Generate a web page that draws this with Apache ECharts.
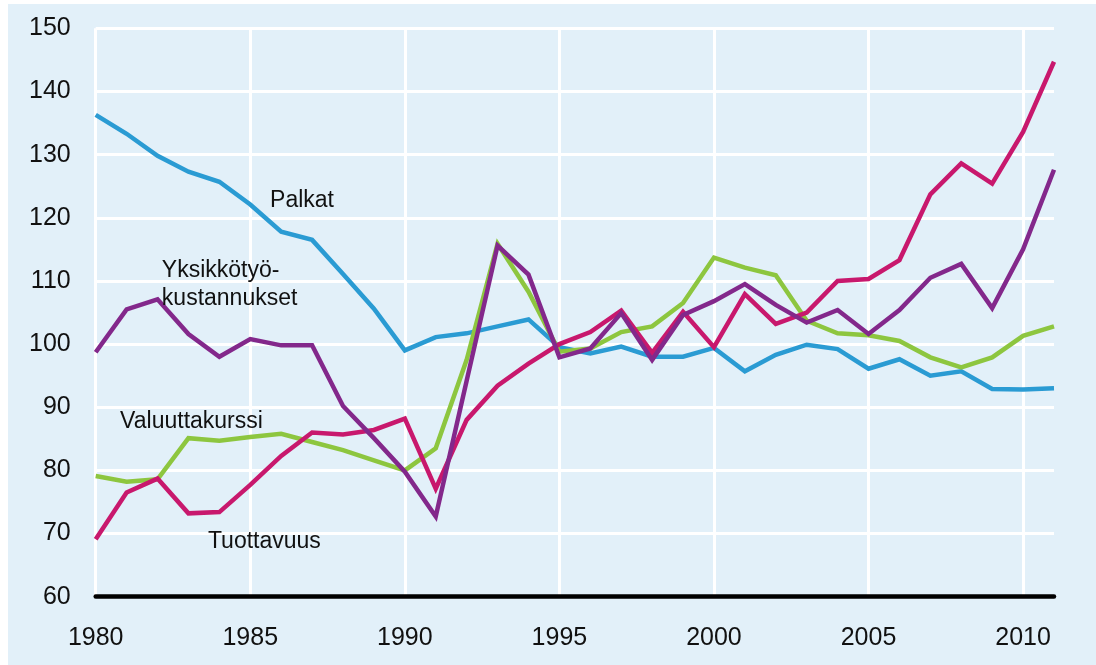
<!DOCTYPE html>
<html>
<head>
<meta charset="utf-8">
<script src="https://cdn.jsdelivr.net/npm/echarts@6/dist/echarts.min.js"></script>
<style>
  html, body { margin: 0; padding: 0; background: #ffffff; }
  #chart { width: 1096px; height: 665px; }
</style>
</head>
<body>
<div id="chart"></div>
<script>
// vuodet 1980-2011
var years = [];
for (var y = 1980; y <= 2011; y++) {
    years.push(String(y));
}

var palkat = [136.3, 133.3, 129.8, 127.3, 125.7, 122.1, 117.8, 116.5, 111.1, 105.6,
    99.0, 101.1, 101.7, 102.8, 103.9, 99.5, 98.5, 99.6, 98.0, 98.0,
    99.4, 95.7, 98.3, 99.9, 99.2, 96.1, 97.6, 95.0, 95.7, 92.9,
    92.8, 93.0];

var valuuttakurssi = [79.1, 78.2, 78.6, 85.1, 84.7, 85.3, 85.8, 84.5, 83.2, 81.6,
    80.0, 83.5, 97.5, 115.9, 108.3, 98.8, 99.3, 101.9, 102.8, 106.5,
    113.7, 112.1, 110.9, 103.7, 101.7, 101.4, 100.5, 97.9, 96.3, 97.9,
    101.3, 102.8];

var tuottavuus = [69.1, 76.5, 78.7, 73.2, 73.4, 77.7, 82.3, 86.0, 85.7, 86.4,
    88.2, 77.1, 88.0, 93.4, 96.9, 100.0, 101.9, 105.3, 98.6, 105.1,
    99.5, 107.9, 103.2, 105.0, 110.0, 110.3, 113.3, 123.7, 128.6, 125.4,
    133.6, 144.7];

var yksikkotyokustannukset = [98.7, 105.5, 107.1, 101.6, 98.0, 100.8, 99.8, 99.8, 90.2, 85.1,
    79.8, 72.7, 94.2, 115.6, 111.0, 97.9, 99.3, 104.9, 97.5, 104.6,
    106.8, 109.5, 106.2, 103.4, 105.4, 101.6, 105.4, 110.5, 112.7, 105.7,
    115.0, 127.6];

// tekstit ja niiden paikat (vuosi, arvo)
var labelTexts = ['Palkat', 'Yksikkötyö-\nkustannukset', 'Valuuttakurssi', 'Tuottavuus'];
var labelAt = [[1985.64, 122.7], [1982.14, 109.35], [1980.79, 87.7], [1983.63, 68.7]];

var colors = {
    palkat: '#2a9bd3',
    valuutta: '#8dc63f',
    tuottavuus: '#c8186d',
    yksikko: '#83288b'
};

var chart = echarts.init(document.getElementById('chart'));

function lineSeries(name, data, color) {
    return {
        name: name,
        type: 'line',
        data: data,
        symbol: 'none',
        smooth: false,
        lineStyle: { color: color, width: 4.5, join: 'miter' },
        animation: false
    };
}

var option = {
    backgroundColor: '#ffffff',
    animation: false,
    grid: { left: 95.7, right: 42, top: 28.3, bottom: 68.3, containLabel: false },
    xAxis: {
        type: 'category',
        data: years,
        boundaryGap: false,
        axisLine: { show: true, lineStyle: { color: '#000000', width: 4.5 } },
        axisTick: { show: false },
        axisLabel: {
            interval: function(index) { return index % 5 === 0; },
            color: '#111111',
            fontFamily: 'Liberation Sans',
            fontSize: 25,
            margin: 29
        },
        splitLine: {
            show: true,
            interval: function(index) { return index % 5 === 0; },
            lineStyle: { color: '#ffffff', width: 3 }
        }
    },
    yAxis: {
        type: 'value',
        min: 60,
        max: 150,
        interval: 10,
        axisLine: { show: false },
        axisTick: { show: false },
        axisLabel: {
            color: '#111111',
            fontFamily: 'Liberation Sans',
            fontSize: 25,
            margin: 25
        },
        splitLine: { show: true, lineStyle: { color: '#ffffff', width: 3 } }
    },
    graphic: [{
        type: 'rect',
        z: -10,
        silent: true,
        shape: { x: 8, y: 4, width: 1088, height: 661 },
        style: { fill: '#e2f0f9' }
    }],
    series: [
        lineSeries('Palkat', palkat, colors.palkat),
        lineSeries('Valuuttakurssi', valuuttakurssi, colors.valuutta),
        lineSeries('Tuottavuus', tuottavuus, colors.tuottavuus),
        lineSeries('Yksikkötyökustannukset', yksikkotyokustannukset, colors.yksikko)
    ]
};

chart.setOption(option);

// kategoria-akseli pyöristää, joten vuoden välit lasketaan kahden pisteen kautta
function toPixel(year, value) {
    var idx = year - 1980;
    var i0 = Math.floor(idx);
    var p0 = chart.convertToPixel({ gridIndex: 0 }, [i0, value]);
    var p1 = chart.convertToPixel({ gridIndex: 0 }, [i0 + 1, value]);
    return [p0[0] + (p1[0] - p0[0]) * (idx - i0), p0[1]];
}

var texts = [];
for (var i = 0; i < labelTexts.length; i++) {
    var pos = toPixel(labelAt[i][0], labelAt[i][1]);
    texts.push({
        type: 'text',
        x: pos[0],
        y: pos[1],
        z: 20,
        silent: true,
        style: {
            text: labelTexts[i],
            fill: '#111111',
            font: '23px "Liberation Sans"',
            lineHeight: 28,
            textAlign: 'left',
            textVerticalAlign: 'middle'
        }
    });
}
chart.setOption({ graphic: option.graphic.concat(texts) });
</script>
</body>
</html>
